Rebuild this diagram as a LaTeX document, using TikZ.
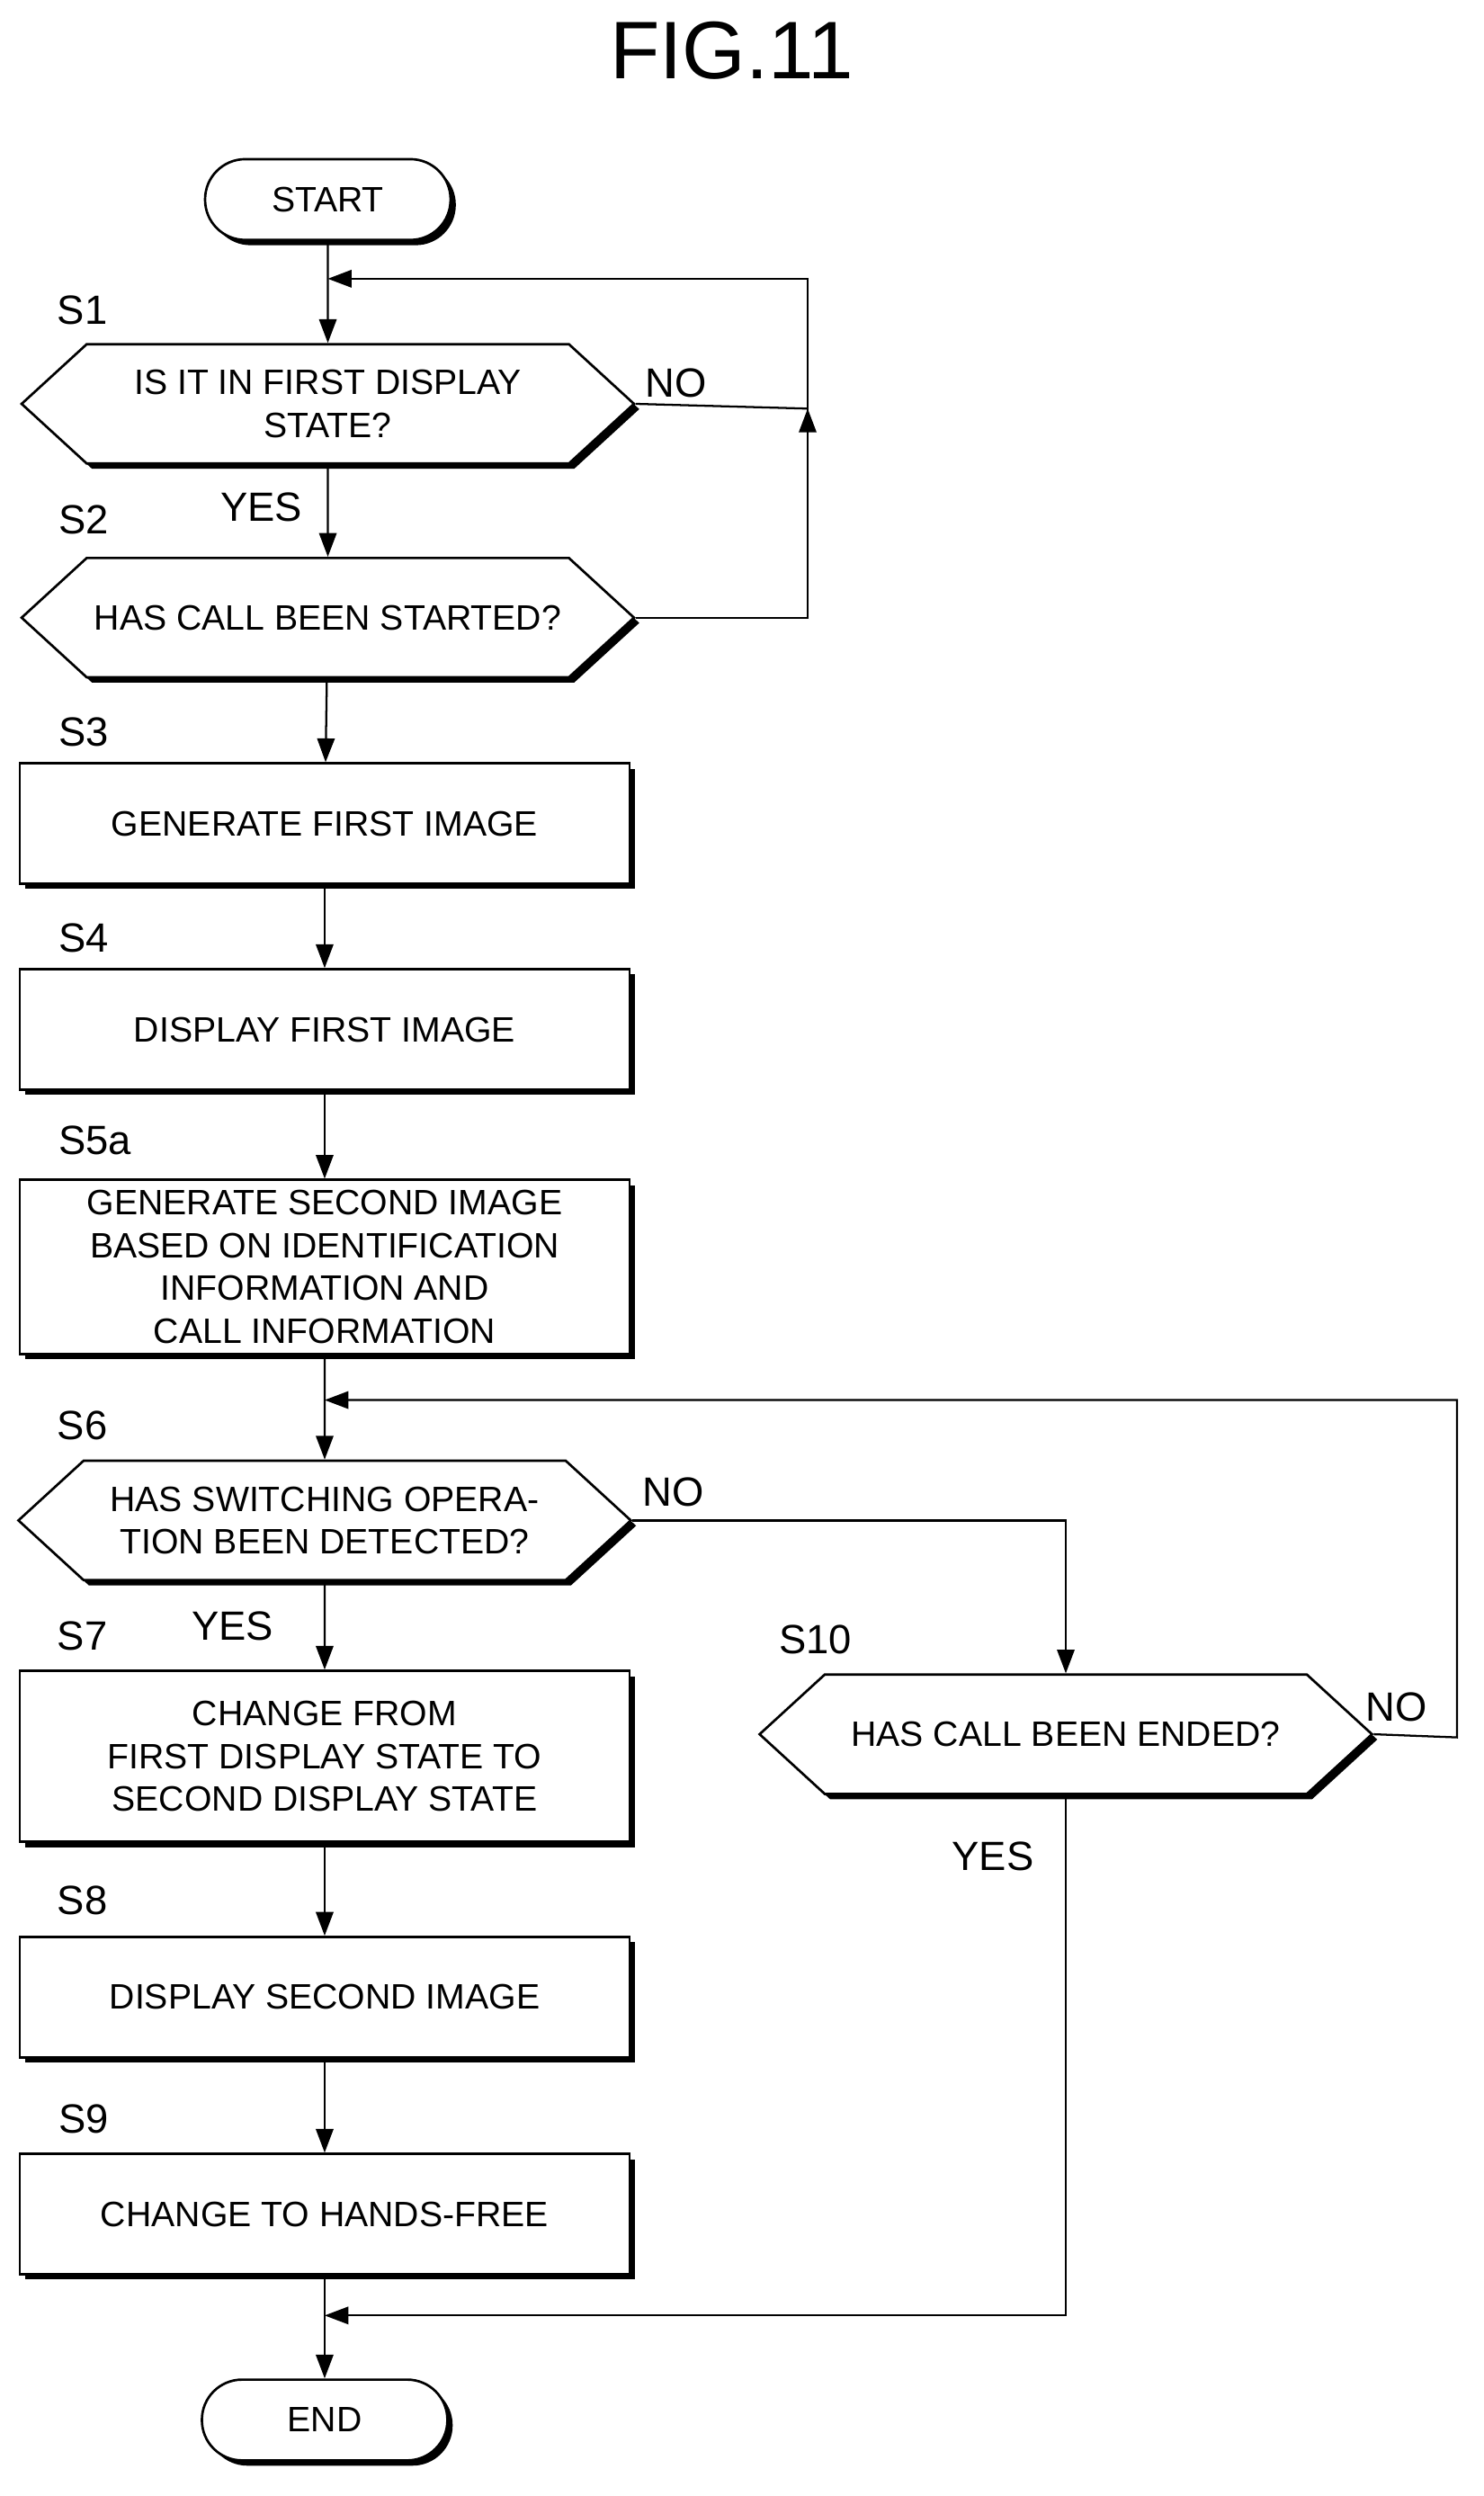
\documentclass[tikz,border=0pt]{standalone}
\usepackage{fontspec}
\setmainfont{Liberation Sans}
\usetikzlibrary{shapes.symbols,shadows,arrows.meta}
\begin{document}
\begin{tikzpicture}[x=0.03cm,y=-0.03cm,
  every node/.style={font=\fontsize{19}{23}\selectfont},
  sh/.style={drop shadow={shadow xshift=0.1cm,shadow yshift=-0.1cm,opacity=1,fill=black}},
  box/.style={draw,line width=1.3pt,fill=white,sh,minimum width=11.55cm,minimum height=2.28cm,align=center,inner sep=0pt},
  hex/.style={draw,line width=1.3pt,fill=white,sh,shape=signal,signal to=east and west,signal pointer angle=85,minimum width=11.6cm,minimum height=2.26cm,align=center,inner sep=0pt},
  pill/.style={draw,line width=1.3pt,fill=white,sh,rounded corners=0.76cm,minimum width=4.65cm,minimum height=1.53cm},
  lab/.style={font=\fontsize{22}{26}\selectfont},
  ln/.style={line width=1.1pt},
  arr/.style={ln,-{Triangle[length=0.45cm,width=0.33cm]}}]
\useasboundingbox (0,0) rectangle (937,1576);
\node[font=\fontsize{44}{50}\selectfont] (title) at (462,32) {FIG.11};
\node[pill] (start) at (207,126) {START};
\node[hex] (s1) at (207,255) {IS IT IN FIRST DISPLAY\\STATE?};
\node[hex] (s2) at (207,390) {HAS CALL BEEN STARTED?};
\node[box] (s3) at (205,520) {GENERATE FIRST IMAGE};
\node[box] (s4) at (205,650) {DISPLAY FIRST IMAGE};
\node[box,minimum height=3.3cm] (s5) at (205,800) {GENERATE SECOND IMAGE\\BASED ON IDENTIFICATION\\INFORMATION AND\\CALL INFORMATION};
\node[hex] (s6) at (205,960) {HAS SWITCHING OPERA-\\TION BEEN DETECTED?};
\node[box,minimum height=3.24cm] (s7) at (205,1109) {CHANGE FROM\\FIRST DISPLAY STATE TO\\SECOND DISPLAY STATE};
\node[box] (s8) at (205,1261) {DISPLAY SECOND IMAGE};
\node[box] (s9) at (205,1398) {CHANGE TO HANDS-FREE};
\node[hex] (s10) at (673,1095) {HAS CALL BEEN ENDED?};
\node[pill] (end) at (205,1528) {END};
\node[lab] (l1) at (52,196) {S1};
\node[lab] (l2) at (53,328) {S2};
\node[lab] (l3) at (53,462) {S3};
\node[lab] (l4) at (53,592) {S4};
\node[lab] (l5) at (60,720) {S5a};
\node[lab] (l6) at (52,900) {S6};
\node[lab] (l7) at (52,1033) {S7};
\node[lab] (l8) at (52,1200) {S8};
\node[lab] (l9) at (53,1338) {S9};
\node[lab] (l10) at (515,1035) {S10};
\node[lab] (n1) at (427,242) {NO};
\node[lab] (y1) at (165,320) {YES};
\node[lab] (n6) at (425,942) {NO};
\node[lab] (y6) at (147,1027) {YES};
\node[lab] (n10) at (882,1078) {NO};
\node[lab] (y10) at (627,1172) {YES};
\coordinate (j1) at (207,176);
\coordinate (r1) at (510,176);
\coordinate (r2) at (510,390);
\coordinate (r1b) at (510,258);
\coordinate (j6) at (205,884);
\coordinate (r6) at (920,884);
\coordinate (r10) at (920,1097);
\coordinate (c6) at (673,960);
\coordinate (c10) at (673,1462);
\coordinate (je) at (205,1462);
\draw[arr] (start) -- (s1);
\draw[arr] (s1) -- (s2);
\draw[arr] (s2) -- (s3);
\draw[arr] (s3) -- (s4);
\draw[arr] (s4) -- (s5);
\draw[arr] (s5) -- (s6);
\draw[arr] (s6) -- (s7);
\draw[arr] (s7) -- (s8);
\draw[arr] (s8) -- (s9);
\draw[arr] (s9) -- (end);
\draw[arr] (s2.east) -- (r2) -- (r1) -- (j1);
\draw[ln] (s1.east) -- (r1b);
\draw[arr] (510,285) -- (r1b);
\draw[arr] (s6.east) -- (c6) -- (s10.north);
\draw[arr] (s10.east) -- (r10) -- (r6) -- (j6);
\draw[arr] (s10.south) -- (c10) -- (je);
\end{tikzpicture}
\end{document}
